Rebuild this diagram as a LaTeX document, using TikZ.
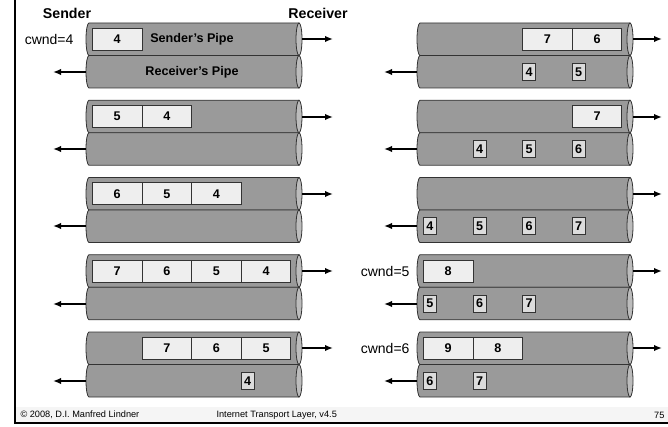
\documentclass[tikz,border=0pt]{standalone}
\usepackage{fontspec}
\setmainfont{Liberation Sans}
\usepackage{tikz}
\usetikzlibrary{arrows.meta}

\definecolor{pipebody}{HTML}{9A9A9A}
\definecolor{pipeend}{HTML}{BCBCBC}
\definecolor{pktfill}{HTML}{EEEEEE}
\definecolor{ackfill}{HTML}{DCDCDC}
\definecolor{edgegray}{HTML}{333333}

\begin{document}
\begin{tikzpicture}[x=1pt,y=-1pt,
  pipe/.style={draw=edgegray,line width=0.8pt,fill=pipebody},
  pipecap/.style={draw=edgegray,line width=0.8pt,fill=pipeend},
  pkt/.style={draw=edgegray,line width=0.8pt,fill=pktfill,anchor=west,
    minimum width=49.6pt,minimum height=22pt,inner sep=0pt,
    font=\fontsize{12.6}{14}\selectfont\bfseries},
  ack/.style={draw=edgegray,line width=0.8pt,fill=ackfill,anchor=west,
    minimum width=13pt,minimum height=17pt,inner sep=0pt,
    font=\fontsize{12.6}{14}\selectfont\bfseries},
  lbl/.style={font=\fontsize{12.6}{14}\selectfont\bfseries},
  head/.style={font=\fontsize{14.2}{16}\selectfont\bfseries},
  win/.style={anchor=east,font=\fontsize{14}{16}\selectfont},
  foot/.style={font=\fontsize{9.2}{11}\selectfont},
  flow/.style={line width=2pt,-{Latex[length=8pt,width=6.5pt]}}]
\useasboundingbox (0,0) rectangle (668,427);

% Frame and footer band
\fill[gray!8] (15,407) rectangle (668,422);
\draw[line width=1.5pt] (15,0) -- (15,423) -- (668,423);

% Pipes: 5 time steps, sender column on the left, receiver column on the right
\foreach \k in {1,...,5} {
  \pgfmathsetmacro\ys{39.25+77.25*(\k-1)}
  \pgfmathsetmacro\yr{71.75+77.25*(\k-1)}
  \foreach \yy in {\ys,\yr} {
    \foreach \xl/\xr in {89/299,420/630} {
      \filldraw[pipe] (\xl,\yy-16.25) -- (\xr,\yy-16.25) -- (\xr,\yy+16.25) -- (\xl,\yy+16.25)
        arc[start angle=90,end angle=270,x radius=3,y radius=16.25] -- cycle;
      \filldraw[pipecap] (\xr,\yy) ellipse[x radius=3,y radius=16.25];
    }
  }
  % arrows on whole pixels
  \pgfmathsetmacro\as{round(\ys)}
  \pgfmathsetmacro\ar{round(\yr)}
  \coordinate (Ls\k) at (302,\as);
  \coordinate (Lr\k) at (86,\ar);
  \coordinate (Rs\k) at (633,\as);
  \coordinate (Rr\k) at (417,\ar);
  \coordinate (Lsout\k) at (333,\as);
  \coordinate (Lrout\k) at (53,\ar);
  \coordinate (Rsout\k) at (662,\as);
  \coordinate (Rrout\k) at (384,\ar);
  \draw[flow] (Ls\k) -- (Lsout\k);
  \draw[flow] (Lr\k) -- (Lrout\k);
  \draw[flow] (Rs\k) -- (Rsout\k);
  \draw[flow] (Rr\k) -- (Rrout\k);
}

% Headings
\node[head] (sender) at (67,13) {Sender};
\node[head] (receiver) at (318,13) {Receiver};

% Step 1
\node[win] (w1) at (77,39.25) {cwnd=4};
\node[pkt] (a4) at (92,39.25) {4};
\node[lbl] (spipe) at (192,39.25) {Sender's Pipe};
\node[lbl] (rpipe) at (192,71.75) {Receiver's Pipe};
\node[pkt] (b7) at (522.2,39.25) {7};
\node[pkt] (b6) at (571.8,39.25) {6};
\node[ack] (c4) at (522.2,71.75) {4};
\node[ack] (c5) at (571.8,71.75) {5};

% Step 2
\node[pkt] (d5) at (92,116.5) {5};
\node[pkt] (d4) at (141.6,116.5) {4};
\node[pkt] (e7) at (571.8,116.5) {7};
\node[ack] (f4) at (472.6,149) {4};
\node[ack] (f5) at (522.2,149) {5};
\node[ack] (f6) at (571.8,149) {6};

% Step 3
\node[pkt] (g6) at (92,193.75) {6};
\node[pkt] (g5) at (141.6,193.75) {5};
\node[pkt] (g4) at (191.2,193.75) {4};
\node[ack] (h4) at (423,226.25) {4};
\node[ack] (h5) at (472.6,226.25) {5};
\node[ack] (h6) at (522.2,226.25) {6};
\node[ack] (h7) at (571.8,226.25) {7};

% Step 4
\node[pkt] (i7) at (92,271) {7};
\node[pkt] (i6) at (141.6,271) {6};
\node[pkt] (i5) at (191.2,271) {5};
\node[pkt] (i4) at (240.8,271) {4};
\node[win] (w5) at (413,271) {cwnd=5};
\node[pkt] (j8) at (423,271) {8};
\node[ack] (k5) at (423,303.5) {5};
\node[ack] (k6) at (472.6,303.5) {6};
\node[ack] (k7) at (522.2,303.5) {7};

% Step 5
\node[pkt] (l7) at (141.6,348.25) {7};
\node[pkt] (l6) at (191.2,348.25) {6};
\node[pkt] (l5) at (240.8,348.25) {5};
\node[ack] (m4) at (240.8,380.75) {4};
\node[win] (w6) at (413,348.25) {cwnd=6};
\node[pkt] (n9) at (423,348.25) {9};
\node[pkt] (n8) at (472.6,348.25) {8};
\node[ack] (o6) at (423,380.75) {6};
\node[ack] (o7) at (472.6,380.75) {7};

% Footer
\node[foot,anchor=west] (copy) at (17,415) {\textcopyright{} 2008, D.I. Manfred Lindner};
\node[foot,anchor=west] (title) at (213,415) {Internet Transport Layer, v4.5};
\node[foot,anchor=east] (page) at (668,415) {75};

\end{tikzpicture}
\end{document}
